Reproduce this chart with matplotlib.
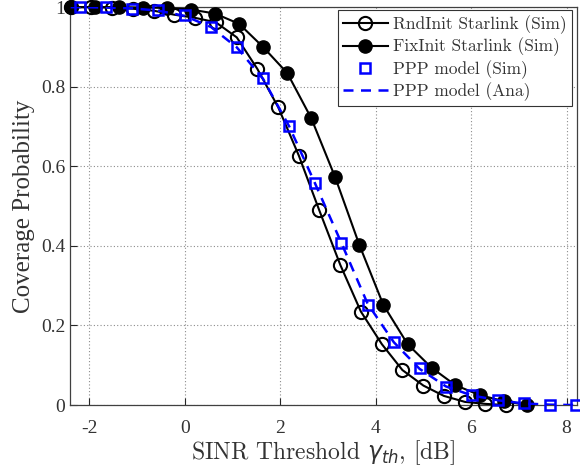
import matplotlib
matplotlib.use("Agg")
import matplotlib.pyplot as plt

# RndInit Starlink (Sim), open circles
rnd_x = [-2.39, -1.96, -1.52, -1.09, -0.65, -0.22, 0.22, 0.65, 1.09, 1.52, 1.96,
         2.39, 2.82, 3.26, 3.69, 4.13, 4.56, 5.00, 5.43, 5.87, 6.30, 6.74]
rnd_y = [1.0, 1.0, 0.999, 0.996, 0.991, 0.981, 0.973, 0.962, 0.924, 0.845, 0.748,
         0.627, 0.489, 0.352, 0.235, 0.153, 0.088, 0.049, 0.023, 0.008, 0.003, 0.0]

# FixInit Starlink (Sim), filled circles
fix_x = [-2.39, -1.89, -1.38, -0.88, -0.37, 0.13, 0.63, 1.14, 1.64, 2.15,
         2.65, 3.15, 3.66, 4.16, 4.67, 5.17, 5.67, 6.18, 6.68, 7.18]
fix_y = [1.0, 1.0, 1.0, 0.999, 0.998, 0.994, 0.984, 0.958, 0.900, 0.834,
         0.721, 0.573, 0.402, 0.252, 0.153, 0.094, 0.050, 0.025, 0.010, 0.0]

# PPP model (Sim), squares
ppp_x = [-2.19, -1.64, -1.10, -0.55, 0.0, 0.55, 1.09, 1.64, 2.19, 2.73,
         3.28, 3.83, 4.38, 4.92, 5.47, 6.02, 6.57, 7.11, 7.66, 8.20]
ppp_y = [1.0, 1.0, 0.996, 0.992, 0.979, 0.950, 0.900, 0.822, 0.702, 0.558,
         0.407, 0.252, 0.159, 0.092, 0.045, 0.025, 0.013, 0.004, 0.001, 0.0]

# PPP model (Ana), dashed line
ana_x = [-2.39, -2.19, -1.64, -1.10, -0.55, 0.0, 0.55, 1.09, 1.64, 2.19, 2.73,
         3.28, 3.83, 4.38, 4.92, 5.47, 6.02, 6.57, 7.11, 7.66, 8.20]
ana_y = [1.0, 1.0, 0.999, 0.997, 0.991, 0.978, 0.950, 0.899, 0.820, 0.700, 0.557,
         0.408, 0.255, 0.158, 0.091, 0.047, 0.024, 0.012, 0.004, 0.001, 0.0]

blue = "#0000ff"

fig = plt.figure(figsize=(5.8, 4.76), dpi=100)
ax = fig.add_axes([0.121, 0.149, 0.874, 0.836])

ax.plot(rnd_x, rnd_y, "-o", color="black", lw=1.5, ms=9.5, mfc="none",
        mew=1.5, label="RndInit Starlink (Sim)", zorder=3, clip_on=False)
ax.plot(fix_x, fix_y, "-o", color="black", lw=1.5, ms=9.5, mfc="black",
        label="FixInit Starlink (Sim)", zorder=3, clip_on=False)
ax.plot(ppp_x, ppp_y, "s", color=blue, ms=7, mfc="none", mew=1.8,
        label="PPP model (Sim)", zorder=4, clip_on=False)
ax.plot(ana_x, ana_y, "--", color=blue, lw=1.8, dashes=(4, 3),
        label="PPP model (Ana)", zorder=4)

ax.set_xlim(-2.4, 8.22)
ax.set_ylim(0, 1)
ax.set_xticks([-2, 0, 2, 4, 6, 8])
ax.set_yticks([0, 0.2, 0.4, 0.6, 0.8, 1.0])
ax.set_yticklabels(["0", "0.2", "0.4", "0.6", "0.8", "1"])
ax.set_xticklabels(["-2", "0", "2", "4", "6", "8"])

ax.grid(True, linestyle=(0, (1, 2)), color="#8c8c8c", lw=0.8)
ax.tick_params(direction="in", length=5, colors="#262626", labelsize=14,
               width=0.8)
ax.tick_params(axis="x", pad=11)
for lbl in ax.get_xticklabels() + ax.get_yticklabels():
    lbl.set_family("Liberation Serif")
    lbl.set_color("#333333")
for s in ax.spines.values():
    s.set_color("#404040")
    s.set_linewidth(0.9)

plt.rcParams["mathtext.fontset"] = "cm"
ax.set_xlabel(r"SINR Threshold $\gamma_{th}$, [dB]", family="cmr10",
              fontsize=17, color="#333333", labelpad=1)
ax.set_ylabel("Coverage Probability", family="Liberation Serif", fontsize=18,
              color="#333333", labelpad=4)

leg = ax.legend(loc="upper right", bbox_to_anchor=(0.99, 0.992),
                borderaxespad=0, fancybox=False, framealpha=1,
                edgecolor="#333333", handlelength=2.6, handletextpad=0.3,
                labelspacing=0.2, borderpad=0.3,
                prop={"family": "cmr10", "size": 12.5})
leg.get_frame().set_linewidth(0.8)
leg.set_zorder(10)
for t in leg.get_texts():
    t.set_color("#333333")

fig.savefig("out.png", dpi=100)
